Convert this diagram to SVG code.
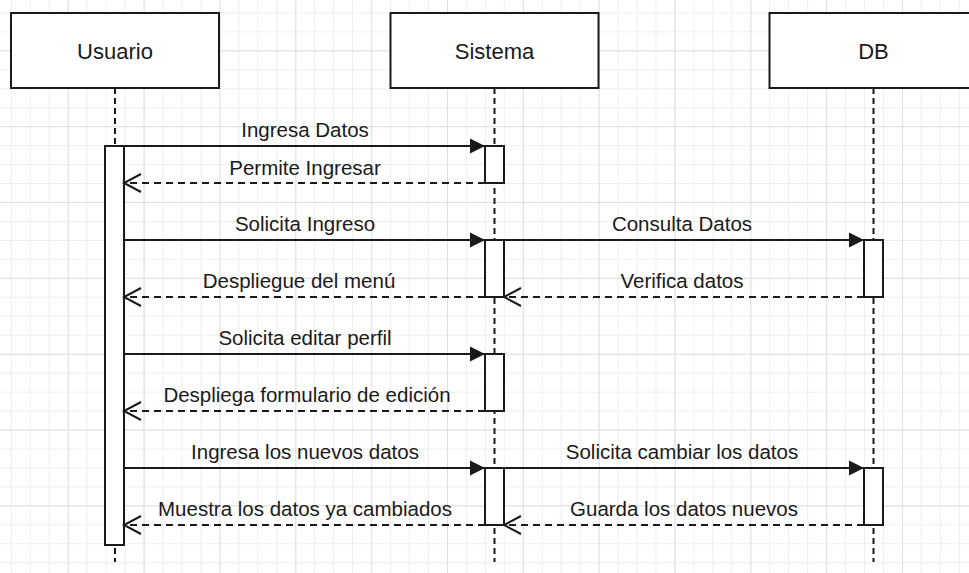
<svg xmlns="http://www.w3.org/2000/svg" width="969" height="573" viewBox="0 0 969 573">
<style>
.head{fill:#fff;stroke:#1a1a1a;stroke-width:2}
.life{stroke:#1a1a1a;stroke-width:2;stroke-dasharray:6 4;fill:none}
.bar{fill:#fff;stroke:#1a1a1a;stroke-width:2}
.htxt{font-family:"Liberation Sans",Arial,sans-serif;font-size:22px;fill:#1a1a1a;text-anchor:middle}
.msg{stroke:#1a1a1a;stroke-width:2;fill:none}
.call{marker-end:url(#filled)}
.ret{stroke-dasharray:7 5;marker-end:url(#open)}
.lbl{font-family:"Liberation Sans",Arial,sans-serif;font-size:20.5px;fill:#1a1a1a;text-anchor:middle}
</style>
<defs>
<pattern id="minor" patternUnits="userSpaceOnUse" x="10.8" y="12.4" width="18.96" height="18.96">
<path d="M0.5 0V18.96M0 0.5H18.96" stroke="#efefef" stroke-width="1" fill="none"/>
</pattern>
<pattern id="major" patternUnits="userSpaceOnUse" x="67.8" y="50.3" width="75.84" height="75.84">
<path d="M0.5 0V75.84M0 0.5H75.84" stroke="#e0e0e0" stroke-width="1" fill="none"/>
</pattern>
<marker id="filled" markerUnits="userSpaceOnUse" markerWidth="16" markerHeight="16" refX="15" refY="7.5" orient="auto" style="overflow:visible">
<path d="M0,0L15,7.5L0,15z" fill="#1a1a1a" stroke="none"/>
</marker>
<marker id="open" markerUnits="userSpaceOnUse" markerWidth="20" markerHeight="20" refX="17" refY="9" orient="auto" style="overflow:visible">
<path d="M0,0L17,9L0,18" fill="none" stroke="#1a1a1a" stroke-width="2" stroke-dasharray="none"/>
</marker>
</defs>
<rect width="969" height="573" fill="#fff"/>
<rect width="969" height="573" fill="url(#minor)"/>
<rect width="969" height="573" fill="url(#major)"/>

<g id="usuario">
<line class="life" x1="115" y1="88" x2="115" y2="562"/>
<rect class="head" x="11" y="13" width="208" height="75"/>
<text class="htxt" x="115" y="59">Usuario</text>
<rect class="bar" x="105" y="146" width="19" height="399"/>
</g>

<g id="sistema">
<line class="life" x1="494.5" y1="88" x2="494.5" y2="562"/>
<rect class="head" x="390.5" y="13" width="208" height="75"/>
<text class="htxt" x="494.5" y="59">Sistema</text>
<rect class="bar" x="485" y="146" width="19" height="37"/>
<rect class="bar" x="485" y="240" width="19" height="57"/>
<rect class="bar" x="485" y="354" width="19" height="57"/>
<rect class="bar" x="485" y="468" width="19" height="57"/>
</g>

<g id="db">
<line class="life" x1="873.5" y1="88" x2="873.5" y2="562"/>
<rect class="head" x="769.5" y="13" width="208" height="75"/>
<text class="htxt" x="873.5" y="59">DB</text>
<rect class="bar" x="864" y="240" width="19" height="57"/>
<rect class="bar" x="864" y="468" width="19" height="57"/>
</g>

<g id="connectors">
<line class="msg call" x1="124" y1="146" x2="485" y2="146"/>
<text class="lbl" x="305" y="137">Ingresa Datos</text>
<line class="msg ret" x1="485" y1="183" x2="124" y2="183"/>
<text class="lbl" x="305" y="175">Permite Ingresar</text>

<line class="msg call" x1="124" y1="240" x2="485" y2="240"/>
<text class="lbl" x="305" y="231">Solicita Ingreso</text>
<line class="msg call" x1="504" y1="240" x2="864" y2="240"/>
<text class="lbl" x="682" y="231">Consulta Datos</text>
<line class="msg ret" x1="485" y1="297" x2="124" y2="297"/>
<text class="lbl" x="299" y="288">Despliegue del menú</text>
<line class="msg ret" x1="864" y1="297" x2="504" y2="297"/>
<text class="lbl" x="682" y="288">Verifica datos</text>

<line class="msg call" x1="124" y1="354" x2="485" y2="354"/>
<text class="lbl" x="305" y="345">Solicita editar perfil</text>
<line class="msg ret" x1="485" y1="411" x2="124" y2="411"/>
<text class="lbl" x="307" y="402">Despliega formulario de edición</text>

<line class="msg call" x1="124" y1="468" x2="485" y2="468"/>
<text class="lbl" x="305" y="459">Ingresa los nuevos datos</text>
<line class="msg call" x1="504" y1="468" x2="864" y2="468"/>
<text class="lbl" x="682" y="459">Solicita cambiar los datos</text>
<line class="msg ret" x1="485" y1="525" x2="124" y2="525"/>
<text class="lbl" x="305" y="516">Muestra los datos ya cambiados</text>
<line class="msg ret" x1="864" y1="525" x2="504" y2="525"/>
<text class="lbl" x="684" y="516">Guarda los datos nuevos</text>
</g>
</svg>
